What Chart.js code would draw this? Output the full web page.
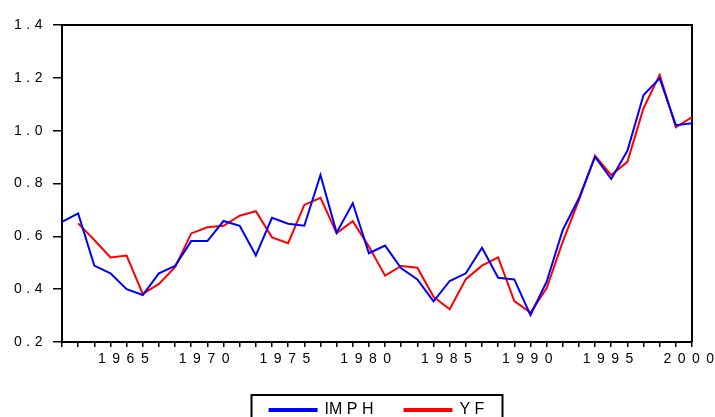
<!DOCTYPE html>
<html>
<head>
<meta charset="utf-8">
<script src="https://cdn.jsdelivr.net/npm/chart.js@4/dist/chart.umd.min.js"></script>
<style>
html,body{margin:0;padding:0;background:#fff;}
#wrap{position:relative;width:715px;height:417px;}
</style>
</head>
<body>
<div id="wrap"><canvas id="c" width="715" height="417"></canvas></div>
<script>
const years = [1961,1962,1963,1964,1965,1966,1967,1968,1969,1970,
               1971,1972,1973,1974,1975,1976,1977,1978,1979,1980,
               1981,1982,1983,1984,1985,1986,1987,1988,1989,1990,
               1991,1992,1993,1994,1995,1996,1997,1998,1999,2000];
const imph = [0.655,0.687,0.489,0.460,0.400,0.378,0.460,0.488,0.582,0.582,
              0.658,0.640,0.528,0.670,0.648,0.640,0.832,0.614,0.725,0.536,
              0.565,0.479,0.437,0.354,0.431,0.460,0.557,0.443,0.437,0.302,
              0.428,0.624,0.744,0.901,0.817,0.924,1.135,1.198,1.021,1.028];
const yf   = [null,0.649,0.586,0.520,0.527,0.382,0.420,0.483,0.611,0.634,
              0.640,0.678,0.695,0.596,0.574,0.719,0.746,0.612,0.657,0.561,
              0.451,0.488,0.481,0.371,0.324,0.438,0.489,0.520,0.355,0.311,
              0.403,0.580,0.737,0.905,0.832,0.882,1.085,1.211,1.013,1.051];
const seriesNames = ['IM P H', 'Y F'];
const yTicks = [0.2,0.4,0.6,0.8,1.0,1.2,1.4];

const FONT = "'Liberation Sans', Arial, sans-serif";

function spaced(scale, px){
  if (scale._spacedPatched) return;
  const orig = scale.drawLabels.bind(scale);
  scale.drawLabels = function(area){
    const c = this.ctx;
    const prev = c.letterSpacing;
    c.letterSpacing = px;
    orig(area);
    c.letterSpacing = prev || '0px';
  };
  scale._spacedPatched = true;
}

const framePlugin = {
  id: 'frame',
  beforeDatasetsDraw(chart){
    const {ctx, chartArea: a} = chart;
    ctx.save();
    ctx.strokeStyle = '#000';
    ctx.lineWidth = 2;
    ctx.beginPath();
    ctx.moveTo(a.left, a.top);
    ctx.lineTo(a.right, a.top);
    ctx.lineTo(a.right, a.bottom);
    ctx.stroke();
    ctx.restore();
  },
  afterDraw(chart){
    const lg = chart.legend;
    if (!lg || !lg.legendHitBoxes || !lg.legendHitBoxes.length) return;
    const hb = lg.legendHitBoxes;
    const first = hb[0], last = hb[hb.length-1];
    const cx = (first.left + last.left + last.width) / 2;
    const w = 251;
    const top = first.top - 7;
    const ctx = chart.ctx;
    ctx.save();
    ctx.strokeStyle = '#000';
    ctx.lineWidth = 2;
    ctx.strokeRect(cx - w/2, top, w, 40);
    ctx.restore();
  }
};

new Chart(document.getElementById('c'), {
  type: 'line',
  data: {
    labels: years,
    datasets: [
      { label: seriesNames[0], data: imph, borderColor: '#0000ff', backgroundColor: '#0000ff',
        borderWidth: 2, pointRadius: 0, tension: 0 },
      { label: seriesNames[1], data: yf, borderColor: '#ff0000', backgroundColor: '#ff0000',
        borderWidth: 2, pointRadius: 0, tension: 0 }
    ]
  },
  options: {
    responsive: false,
    animation: false,
    devicePixelRatio: 1,
    layout: { padding: { top: 25, right: 23, bottom: 0, left: 0 } },
    plugins: {
      legend: {
        position: 'bottom',
        fullSize: false,
        maxHeight: 46,
        labels: {
          boxWidth: 47, boxHeight: 2, padding: 31,
          color: '#000',
          font: { family: FONT, size: 16 }
        }
      },
      tooltip: { enabled: false }
    },
    scales: {
      x: {
        type: 'category',
        offset: false,
        grid: { display: true, drawOnChartArea: false, tickLength: 5, color: '#000', lineWidth: 1.5, offset: false },
        border: { display: true, color: '#000', width: 2 },
        ticks: {
          autoSkip: false, maxRotation: 0, minRotation: 0, padding: 4,
          color: '#000', font: { family: FONT, size: 14 },
          callback: function(v, i){ const y = years[i]; return (y % 5 === 0) ? String(y) : ''; }
        },
        afterFit(scale){ scale.height = 29; scale.paddingLeft = 0; scale.paddingRight = 0; spaced(scale, '6.5px'); }
      },
      y: {
        min: 0.2, max: 1.4,
        afterBuildTicks(scale){ scale.ticks = yTicks.map(v => ({ value: v })); },
        grid: { display: true, drawOnChartArea: false, tickLength: 9, color: '#000', lineWidth: 1.5 },
        border: { display: true, color: '#000', width: 2 },
        ticks: {
          padding: 6, color: '#000', font: { family: FONT, size: 14 },
          callback: v => Number(v).toFixed(1)
        },
        afterFit(scale){ scale.width = 62; scale.paddingTop = 0; scale.paddingBottom = 0; spaced(scale, '4.5px'); }
      }
    }
  },
  plugins: [framePlugin]
});
</script>
</body>
</html>
